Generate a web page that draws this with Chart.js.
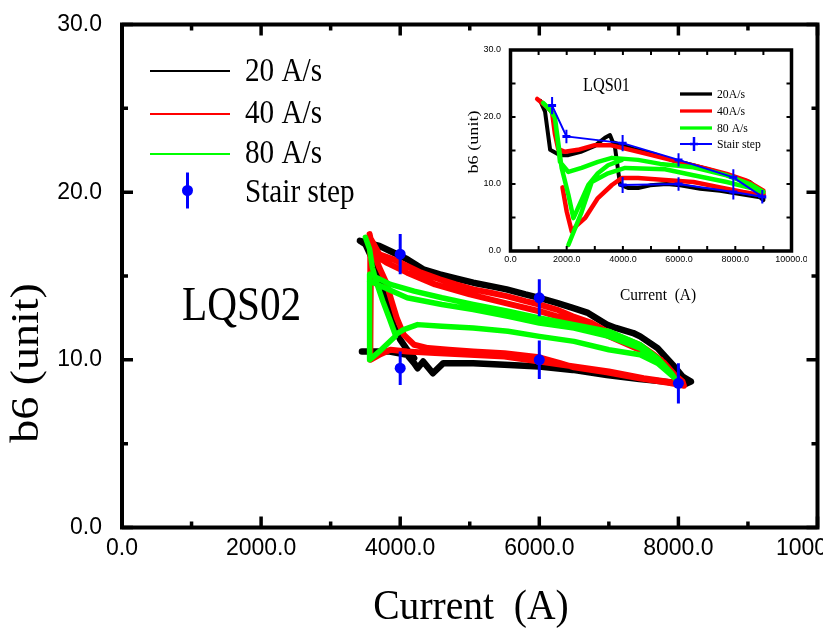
<!DOCTYPE html>
<html>
<head>
<meta charset="utf-8">
<title>b6 vs current</title>
<script src="https://cdn.jsdelivr.net/npm/chart.js@4.4.1/dist/chart.umd.min.js"></script>
<style>
  body { margin: 0; background: #fff; }
  #wrap { position: relative; width: 823px; height: 628px; }
  #main { position: absolute; left: 0; top: 0; }
  #inset { position: absolute; left: 462px; top: 38px; }
</style>
</head>
<body>
<div id="wrap">
  <canvas id="main" width="823" height="628"></canvas>
  <canvas id="inset" width="345" height="272"></canvas>
</div>
<script>
// ---- LQS02 (main plot): ramp-rate loops, [current A, b6] ----
const lqs02Ramp20 = [
  [3450,10.5],[3600,10.5],[3850,10.5],[4100,10.3],[4200,9.8],[4250,9.5],[4330,9.9],[4470,9.2],[4620,9.8],
  [4800,9.8],[5050,9.8],[5500,9.7],[6000,9.6],[6480,9.4],[6970,9.1],[7440,8.85],[7800,8.7],[8100,8.55],[8180,8.7],
  [8100,8.9],[8060,9.0],[7920,9.7],[7700,10.7],[7450,11.4],[7350,11.6],[7100,11.9],[6970,12.1],[6700,12.8],
  [6480,13.1],[6250,13.4],[6000,13.7],[5800,13.9],[5530,14.2],[5300,14.4],[5050,14.6],[4800,14.85],[4570,15.1],
  [4330,15.4],[4100,16.0],[3900,16.4],[3700,16.8],[3500,17.0],[3420,17.1],
  [3500,16.9],[3600,16.0],[3700,15.0],[3760,14.2],[3830,13.2],[3900,12.1],[4000,11.2],[4100,10.6],[4200,10.1]
];
const lqs02Ramp40 = [
  [3560,17.5],[3610,16.5],[3700,15.5],[3800,14.6],[3870,13.6],[3950,12.5],[4050,11.5],[4200,10.9],[4400,10.7],
  [4700,10.6],[5050,10.5],[5500,10.4],[6000,10.15],[6300,9.8],[6500,9.55],[6970,9.25],[7440,8.9],[7900,8.6],[8080,8.45],
  [8060,8.7],[7950,9.1],[7800,9.8],[7650,10.3],[7440,10.9],[7200,11.3],[6970,11.7],[6750,12.2],[6480,12.6],
  [6250,13.0],[6000,13.3],[5800,13.5],[5530,13.8],[5300,14.0],[5050,14.2],[4800,14.5],[4570,14.8],[4300,15.2],
  [4100,15.6],[3900,16.0],[3700,16.3],[3580,17.2],
  [3570,10.0],[3700,10.3],[3860,10.6],[4100,10.5],[4500,10.4],[5000,10.3],[5500,10.2],[6000,9.9],[6500,9.6],
  [7000,9.3],[7500,8.9],[8000,8.6],
  [7950,9.0],[7750,10.0],[7440,10.6],[7000,11.4],[6500,12.3],[6000,12.9],[5500,13.4],[5000,13.9],[4500,14.5],
  [4100,15.2],[3800,15.8],[3620,16.3]
];
const lqs02Ramp80 = [
  [3500,17.3],[3560,16.6],[3600,15.5],[3660,14.6],[3750,13.5],[3850,12.4],[3930,11.5],[4050,11.8],[4250,12.1],
  [4600,12.0],[5050,11.9],[5550,11.7],[6000,11.4],[6500,11.1],[7000,10.6],[7450,10.3],[7700,9.8],[7950,8.9],
  [7900,9.2],[7700,10.1],[7450,10.9],[7000,11.7],[6500,12.1],[6000,12.5],[5550,12.9],[5050,13.3],[4600,13.7],
  [4200,14.1],[3860,14.5],[3560,15.1],
  [3560,10.0],[3700,10.5],[3930,11.4],
  [3700,null],
  [3560,14.7],[4100,13.7],[4600,13.3],[5050,13.0],[5550,12.6],[6000,12.2],[6500,11.9],[7000,11.4],[7450,10.7],[7880,9.3]
];
const lqs02StairI = [4000, 4000, 6000, 6000, 8000];
const lqs02StairB6 = [16.3, 9.5, 13.7, 10.0, 8.6];
const lqs02StairErr = [1.2, 1.0, 1.1, 1.15, 1.2];

// ---- LQS01 (inset) ----
const lqs01Ramp20 = [
  [1060,22.4],[1230,20.8],[1410,15.1],[1760,14.3],[2060,14.3],[2500,14.8],[3000,15.7],[3360,16.9],[3540,17.3],
  [3720,15.4],[3900,9.9],[4180,9.4],[4540,9.4],[4970,9.8],[5560,10.0],[6040,9.8],[6750,9.3],[7460,9.0],
  [8170,8.5],[8880,8.0],[9000,7.6],
  [9000,8.5],[8520,10.3],[7930,11.0],[7220,12.0],[6510,12.8],[5800,13.5],[5090,14.5],[4380,15.25],[4020,15.7],[3670,16.2]
];
const lqs01Ramp40 = [
  [950,22.7],[1300,21.5],[1480,20.7],[1580,17.5],[1700,15.2],[1940,14.8],[2400,15.1],[3000,15.8],[3550,15.8],
  [3970,15.4],[4850,14.5],[5560,13.75],[6270,13.0],[6980,12.3],[7690,11.5],[8400,10.5],[9000,9.0],
  [9000,8.3],[8280,8.8],[7460,9.5],[6510,10.3],[5500,10.6],[4540,10.9],[3970,10.9],[3610,9.85],[3110,7.9],
  [2650,4.9],[2350,3.8],[2180,2.9],[2000,5.9],[1850,9.5]
];
const lqs01Ramp80 = [
  [1160,22.1],[1420,21.0],[1580,19.9],[1700,15.8],[1760,13.3],[2060,11.8],[2530,12.4],[3110,13.3],[3610,13.9],
  [4540,13.6],[5330,13.0],[6510,12.5],[7690,11.3],[8520,10.0],[9000,8.8],
  [8640,9.3],[7690,10.3],[6510,11.3],[5500,12.2],[4080,12.4],[3470,11.6],[2890,10.3],[2530,5.8],[2060,0.9],
  [2000,null],
  [1580,19.9],[1820,12.4],[2060,8.4],[2240,4.9],[2770,9.85],[3110,11.6],[3470,12.8],[3970,13.6]
];
const lqs01StairI = [1480, 1990, 3990, 5980, 7930, 8960, 7930, 5980, 3990];
const lqs01StairB6 = [21.7, 17.1, 16.1, 13.6, 11.0, 8.1, 8.8, 10.0, 9.85];
const lqs01StairErr = [1.3, 1.0, 1.2, 1.0, 1.2, 1.0, 1.1, 1.0, 1.2];

const seriesLabels = ['20 A/s', '40 A/s', '80 A/s', 'Stair step'];
const insetLabels = ['20A/s', '40A/s', '80 A/s', 'Stair step'];

const C20 = '#000000', C40 = '#ff0000', C80 = '#00ff00', CSTAIR = '#0000ff';
const SERIF = '"Liberation Serif", "Times New Roman", serif';
const SANS = '"Liberation Sans", Arial, sans-serif';

Chart.defaults.color = '#000';

const pts = arr => arr.map(([x, y]) => ({ x, y }));
const stairPts = (I, b) => I.map((x, i) => ({ x, y: b[i] }));

function rampSet(label, data, color, width, order) {
  return {
    label, data: pts(data), showLine: true, borderColor: color, backgroundColor: color,
    borderWidth: width, pointRadius: 0, tension: 0, order,
    borderJoinStyle: 'round', borderCapStyle: 'round'
  };
}

// vertical error bars, drawn just before the point dataset they belong to
const errorBars = {
  id: 'errorBars',
  beforeDatasetDraw(chart, { index, meta }) {
    const ds = chart.data.datasets[index];
    if (!ds.errors) return;
    const { ctx, scales: { y } } = chart;
    ctx.save();
    ctx.strokeStyle = ds.borderColor;
    ctx.lineWidth = ds.errorWidth;
    ctx.beginPath();
    meta.data.forEach((pt, i) => {
      const v = ds.data[i].y, e = ds.errors[i];
      ctx.moveTo(pt.x, y.getPixelForValue(v - e));
      ctx.lineTo(pt.x, y.getPixelForValue(v + e));
    });
    ctx.stroke();
    ctx.restore();
  }
};

// box frame with inward ticks on all four sides
function frame(o) {
  return {
    id: 'frame',
    afterDraw(chart) {
      const { ctx, chartArea: a, scales: { x, y } } = chart;
      ctx.save();
      ctx.strokeStyle = '#000';
      ctx.lineWidth = o.tickWidth;
      ctx.beginPath();
      for (let v = x.min; v <= x.max; v += o.xMinor) {
        const p = x.getPixelForValue(v);
        const len = v % o.xMajor === 0 ? o.major : o.minor;
        ctx.moveTo(p, a.bottom); ctx.lineTo(p, a.bottom - len);
        ctx.moveTo(p, a.top); ctx.lineTo(p, a.top + len);
      }
      for (let v = y.min; v <= y.max; v += o.yMinor) {
        const p = y.getPixelForValue(v);
        const len = v % o.yMajor === 0 ? o.major : o.minor;
        ctx.moveTo(a.left, p); ctx.lineTo(a.left + len, p);
        ctx.moveTo(a.right, p); ctx.lineTo(a.right - len, p);
      }
      ctx.stroke();
      ctx.lineWidth = o.frameWidth;
      ctx.strokeRect(a.left, a.top, a.right - a.left, a.bottom - a.top);
      ctx.restore();
    }
  };
}

function drawText(ctx, t) {
  ctx.save();
  ctx.translate(t.x, t.y);
  if (t.rotate) ctx.rotate(t.rotate);
  ctx.scale(t.sx || 1, 1);
  ctx.font = t.font;
  ctx.fillStyle = '#000';
  ctx.textAlign = t.align || 'left';
  ctx.textBaseline = 'alphabetic';
  ctx.fillText(t.text, 0, 0);
  ctx.restore();
}

// axis titles, plot label and the key
function annotate(texts, keys) {
  return {
    id: 'annotate',
    afterDraw(chart) {
      const ctx = chart.ctx;
      texts.forEach(t => drawText(ctx, t));
      keys.forEach(k => {
        ctx.save();
        ctx.strokeStyle = k.color;
        ctx.fillStyle = k.color;
        if (k.x1) {
          ctx.lineWidth = k.width;
          ctx.beginPath(); ctx.moveTo(k.x0, k.y); ctx.lineTo(k.x1, k.y); ctx.stroke();
        }
        if (k.err) {
          ctx.lineWidth = k.errWidth;
          ctx.beginPath(); ctx.moveTo(k.mx, k.y - k.err); ctx.lineTo(k.mx, k.y + k.err); ctx.stroke();
        }
        if (k.marker === 'circle') {
          ctx.beginPath(); ctx.arc(k.mx, k.y, k.r, 0, Math.PI * 2); ctx.fill();
        } else if (k.marker === 'cross') {
          ctx.lineWidth = k.errWidth;
          ctx.beginPath(); ctx.moveTo(k.mx - k.r, k.y); ctx.lineTo(k.mx + k.r, k.y); ctx.stroke();
        }
        ctx.restore();
        drawText(ctx, { text: k.label, x: k.tx, y: k.ty, font: k.font, sx: k.sx });
      });
    }
  };
}

function axes(o) {
  return {
    x: {
      type: 'linear', min: 0, max: 10000,
      grid: { display: false, drawTicks: false }, border: { display: false },
      ticks: { stepSize: 2000, autoSkip: false, maxRotation: 0, padding: o.xPad,
               font: { family: SANS, size: o.fontSize }, callback: v => v.toFixed(1) },
      afterFit: s => { s.height = o.xHeight; s.paddingLeft = 0; s.paddingRight = 0; }
    },
    y: {
      type: 'linear', min: 0, max: 30,
      grid: { display: false, drawTicks: false }, border: { display: false },
      ticks: { stepSize: 10, autoSkip: false, padding: o.yPad,
               font: { family: SANS, size: o.fontSize }, callback: v => v.toFixed(1) },
      afterFit: s => { s.width = o.yWidth; s.paddingTop = 0; s.paddingBottom = 0; }
    }
  };
}

// main plot: LQS02
new Chart(document.getElementById('main'), {
  type: 'scatter',
  data: {
    datasets: [
      rampSet(seriesLabels[0], lqs02Ramp20, C20, 6.5, 4),
      rampSet(seriesLabels[1], lqs02Ramp40, C40, 6, 3),
      rampSet(seriesLabels[2], lqs02Ramp80, C80, 5.5, 2),
      {
        label: seriesLabels[3], data: stairPts(lqs02StairI, lqs02StairB6),
        errors: lqs02StairErr, errorWidth: 3, showLine: false, order: 1,
        borderColor: CSTAIR, backgroundColor: CSTAIR,
        pointStyle: 'circle', pointRadius: 5.5, pointBackgroundColor: CSTAIR,
        pointBorderColor: CSTAIR, pointBorderWidth: 0
      }
    ]
  },
  options: {
    responsive: false, animation: false, events: [],
    layout: { padding: { left: 0, right: 5.5, top: 24.5, bottom: 0 } },
    plugins: { legend: { display: false }, tooltip: { enabled: false } },
    scales: axes({ fontSize: 23, xPad: 7, yPad: 20, xHeight: 100.5, yWidth: 122 })
  },
  plugins: [
    errorBars,
    frame({ xMinor: 1000, xMajor: 2000, yMinor: 5, yMajor: 10, major: 11, minor: 6, tickWidth: 3.5, frameWidth: 4 }),
    annotate([
      { text: 'Current  (A)', x: 471, y: 619, font: '43px ' + SERIF, sx: 0.92, align: 'center' },
      { text: 'b6 (unit)', x: 38, y: 363, font: '40px ' + SERIF, sx: 1.15, align: 'center', rotate: -Math.PI / 2 },
      { text: 'LQS02', x: 182, y: 320, font: '48px ' + SERIF, sx: 0.86 }
    ], [
      { color: C20, x0: 150, x1: 230, y: 71, width: 2, label: seriesLabels[0], tx: 245, ty: 81, font: '33px ' + SERIF, sx: 0.885 },
      { color: C40, x0: 150, x1: 230, y: 114, width: 2, label: seriesLabels[1], tx: 245, ty: 123, font: '33px ' + SERIF, sx: 0.885 },
      { color: C80, x0: 150, x1: 230, y: 154, width: 2, label: seriesLabels[2], tx: 245, ty: 163, font: '33px ' + SERIF, sx: 0.885 },
      { color: CSTAIR, y: 190.5, mx: 187.5, err: 18, errWidth: 3, marker: 'circle', r: 5.5,
        label: seriesLabels[3], tx: 245, ty: 202, font: '33px ' + SERIF, sx: 0.885 }
    ])
  ]
});

// inset: LQS01
new Chart(document.getElementById('inset'), {
  type: 'scatter',
  data: {
    datasets: [
      rampSet(insetLabels[0], lqs01Ramp20, C20, 4, 4),
      rampSet(insetLabels[1], lqs01Ramp40, C40, 4.5, 3),
      rampSet(insetLabels[2], lqs01Ramp80, C80, 4.5, 2),
      {
        label: insetLabels[3], data: stairPts(lqs01StairI, lqs01StairB6),
        errors: lqs01StairErr, errorWidth: 2, showLine: true, order: 1,
        borderColor: CSTAIR, backgroundColor: CSTAIR, borderWidth: 2, tension: 0,
        pointStyle: 'line', pointRadius: 4, pointBorderColor: CSTAIR, pointBorderWidth: 3
      }
    ]
  },
  options: {
    responsive: false, animation: false, events: [],
    layout: { padding: { left: 0, right: 15.5, top: 12, bottom: 0 } },
    plugins: { legend: { display: false }, tooltip: { enabled: false } },
    scales: axes({ fontSize: 9, xPad: 3.5, yPad: 9.5, xHeight: 59, yWidth: 48.5 })
  },
  plugins: [
    errorBars,
    frame({ xMinor: 1000, xMajor: 2000, yMinor: 5, yMajor: 10, major: 5, minor: 5, tickWidth: 2, frameWidth: 3.5 }),
    annotate([
      { text: 'Current  (A)', x: 196, y: 262, font: '17.5px ' + SERIF, sx: 0.88, align: 'center' },
      { text: 'b6 (unit)', x: 16, y: 104, font: '14px ' + SERIF, sx: 1.3, align: 'center', rotate: -Math.PI / 2 },
      { text: 'LQS01', x: 121, y: 53, font: '18.7px ' + SERIF, sx: 0.87 }
    ], [
      { color: C20, x0: 218, x1: 250, y: 56, width: 3.3, label: insetLabels[0], tx: 255, ty: 59.5, font: '13px ' + SERIF, sx: 0.9 },
      { color: C40, x0: 218, x1: 250, y: 73, width: 3.3, label: insetLabels[1], tx: 255, ty: 77, font: '13px ' + SERIF, sx: 0.9 },
      { color: C80, x0: 218, x1: 250, y: 90, width: 3.3, label: insetLabels[2], tx: 255, ty: 93.7, font: '13px ' + SERIF, sx: 0.9 },
      { color: CSTAIR, x0: 218, x1: 250, y: 106, width: 2, mx: 232, err: 7, errWidth: 2.5, marker: 'cross', r: 4,
        label: insetLabels[3], tx: 255, ty: 110, font: '13px ' + SERIF, sx: 0.9 }
    ])
  ]
});
</script>
</body>
</html>
